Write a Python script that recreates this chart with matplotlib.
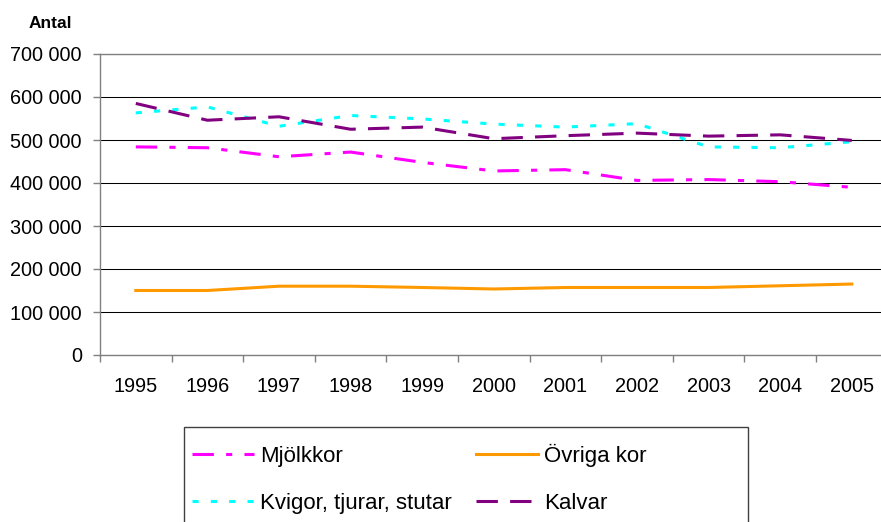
import matplotlib
matplotlib.use("Agg")
import matplotlib.pyplot as plt
from matplotlib.patches import Rectangle
from matplotlib.ticker import FuncFormatter, FixedLocator

plt.rcParams['font.family'] = ['Liberation Sans', 'DejaVu Sans']

years = ["1995", "1996", "1997", "1998", "1999", "2000",
         "2001", "2002", "2003", "2004", "2005"]
mjolkkor = [484000, 482000, 461000, 472000, 448000, 428000,
            431000, 406000, 408000, 403000, 390000]
ovriga_kor = [150000, 150000, 160000, 160000, 157000, 153500,
              157000, 157000, 157000, 161000, 165000]
kvigor = [563000, 577000, 532000, 557000, 549000, 537000,
          530000, 538000, 484000, 482000, 496000]
kalvar = [585000, 546000, 554000, 525000, 530000, 503000,
          510000, 516000, 509000, 512000, 499000]

W, H = 881, 522
fig = plt.figure(figsize=(W / 100, H / 100), dpi=100)
# plot area in pixels: x 100..887.6, y 54..355 (from top)
ax = fig.add_axes([100 / W, (H - 355) / H, 787.6 / W, 301 / H])

x = range(len(years))
lw = 2.2
l1, = ax.plot(x, mjolkkor, color="#FF00FF", lw=lw, linestyle=(0, (7, 4, 2, 4)), label="Mjölkkor")
l2, = ax.plot(x, ovriga_kor, color="#FF9900", lw=lw, linestyle="-", label="Övriga kor")
l3, = ax.plot(x, kvigor, color="#00FFFF", lw=lw, linestyle=(0, (2, 4)), label="Kvigor, tjurar, stutar")
l4, = ax.plot(x, kalvar, color="#800080", lw=lw, linestyle=(0, (7, 4)), label="Kalvar")

ax.set_xlim(-0.5, len(years) - 0.5)
ax.set_ylim(0, 700000)

ax.yaxis.set_major_locator(FixedLocator(range(0, 700001, 100000)))
ax.yaxis.set_major_formatter(FuncFormatter(lambda v, p: f"{int(v):,}".replace(",", " ")))
ax.yaxis.grid(True, color="black", lw=0.75)
ax.set_axisbelow(True)

# year labels at category centres, tick marks between categories
ax.set_xticks(list(x))
ax.set_xticklabels(years)
ax.set_xticks([i - 0.5 for i in range(len(years) + 1)], minor=True)
ax.tick_params(axis="x", which="major", length=0, pad=16, labelsize=14.3)
ax.tick_params(axis="x", which="minor", length=5, width=1, color="#808080", direction="out")
ax.tick_params(axis="y", length=5, width=1, color="#808080", pad=8, labelsize=14.3)

for s in ["left", "bottom", "top"]:
    ax.spines[s].set_color("#808080")
    ax.spines[s].set_linewidth(1)
ax.spines["right"].set_visible(False)

fig.text(50 / W, 1 - 23 / H, "Antal", fontsize=12.5, fontweight="bold", ha="center", va="center")

# legend frame (extends below the image edge)
fig.patches.append(Rectangle((184 / W, -0.05), (748 - 184) / W, (H - 427) / H + 0.05,
                             transform=fig.transFigure, fill=False, edgecolor="#404040", lw=1))
# column-major order so rows read Mjölkkor/Övriga kor, Kvigor/Kalvar
fig.legend(handles=[l1, l3, l2, l4], ncol=2, frameon=False, fontsize=16,
           loc="upper left", bbox_to_anchor=(182 / W, 1 - 434 / H),
           handlelength=2.8, handletextpad=0.28, columnspacing=1.05,
           labelspacing=1.15, borderpad=0.45, borderaxespad=0)

fig.savefig("out.png", dpi=100)
